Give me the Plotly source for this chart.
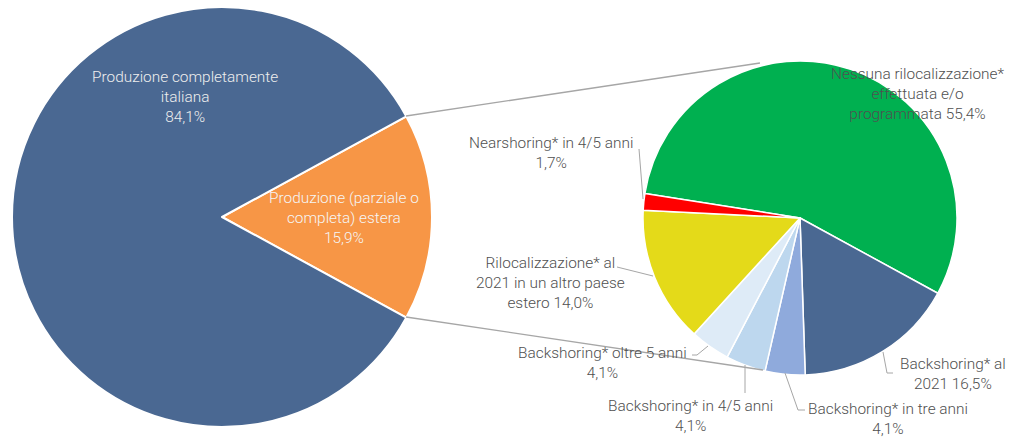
import plotly.graph_objects as go

W, H = 1013, 438

# ---- data ----
main_labels = ["Produzione (parziale o<br>completa) estera", "Produzione completamente<br>italiana"]
main_values = [15.9, 84.1]
main_colors = ["#F79646", "#4A6892"]

sub_labels = [
    "Nessuna rilocalizzazione*<br>effettuata e/o<br>programmata",
    "Backshoring* al<br>2021",
    "Backshoring* in tre anni<br>",
    "Backshoring* in 4/5 anni<br>",
    "Backshoring* oltre 5 anni<br>",
    "Rilocalizzazione* al<br>2021 in un altro paese<br>estero",
    "Nearshoring* in 4/5 anni<br>",
]
sub_values = [55.4, 16.5, 4.1, 4.1, 4.1, 14.0, 1.7]
sub_colors = ["#00B050", "#4A6892", "#8FAADC", "#BDD7EE", "#DEEBF7", "#E4DA19", "#FF0000"]


def pct(v):
    return f"{v:.1f}".replace(".", ",") + "%"


def px(x):
    return x / W


def py(y):
    return 1 - y / H


fig = go.Figure()

# left pie: center (222,217), r 210
fig.add_trace(go.Pie(
    labels=main_labels, values=main_values, sort=False, direction="clockwise",
    rotation=90 - 360 * main_values[0] / 100 / 2,
    marker=dict(colors=main_colors, line=dict(color="white", width=2)),
    textinfo="none", hoverinfo="label+percent", showlegend=False,
    domain=dict(x=[px(12), px(432)], y=[py(427), py(7)]),
))

# right pie: center (800,218), r 157
fig.add_trace(go.Pie(
    labels=sub_labels, values=sub_values, sort=False, direction="clockwise",
    rotation=90 - 171,
    marker=dict(colors=sub_colors, line=dict(color="white", width=1.5)),
    textinfo="none", hoverinfo="label+percent", showlegend=False,
    domain=dict(x=[px(643), px(957)], y=[py(375), py(61)]),
))

FONT = dict(family="Roboto", size=15.4, weight=300)
GRAY = "#505050"

ann = []
# left pie labels (white)
ann.append(dict(x=px(185), y=py(97), text=main_labels[1] + "<br>" + pct(main_values[1]),
                font=dict(**FONT, color="#EEEEEE")))
ann.append(dict(x=px(344), y=py(218), text=main_labels[0] + "<br>" + pct(main_values[0]),
                font=dict(**FONT, color="#F5F5F5")))

# right pie labels: (center x, center y)
sub_pos = [(917, 93.5), (953, 374), (888, 419), (690, 415.5), (602, 362.5), (550, 283), (551, 153)]
for lab, v, (x, y) in zip(sub_labels, sub_values, sub_pos):
    sep = "" if lab.endswith("<br>") else " "
    ann.append(dict(x=px(x), y=py(y), text=lab + sep + pct(v), font=dict(**FONT, color=GRAY)))

for a in ann:
    a.update(xref="paper", yref="paper", showarrow=False, xanchor="center", yanchor="middle",
             align="center", borderpad=0)

# series lines connecting the pies
conn = [((406, 116), (760, 63)), ((406, 317), (763, 370))]
shapes = []
for (x0, y0), (x1, y1) in conn:
    shapes.append(dict(type="line", xref="paper", yref="paper", x0=px(x0), y0=py(y0), x1=px(x1), y1=py(y1),
                       line=dict(color="#A6A6A6", width=1.3)))

# leader lines
leaders = [
    [(639, 149), (643, 199)],
    [(617, 267), (653, 276)],
    [(692, 355), (697, 355), (708, 346)],
    [(745, 365), (745, 393)],
    [(785, 373), (798, 410), (805, 410)],
    [(883, 352), (887, 373), (893, 373)],
]
for pts in leaders:
    path = "M " + " L ".join(f"{px(x)},{py(y)}" for x, y in pts)
    shapes.append(dict(type="path", xref="paper", yref="paper", path=path,
                       line=dict(color="#A6A6A6", width=1)))

fig.update_layout(
    width=W, height=H, margin=dict(l=0, r=0, t=0, b=0),
    paper_bgcolor="white", plot_bgcolor="white",
    annotations=ann, shapes=shapes,
)
fig.write_html("out.html", config={"displayModeBar": False},
               post_script="document.body.style.margin='0';")
